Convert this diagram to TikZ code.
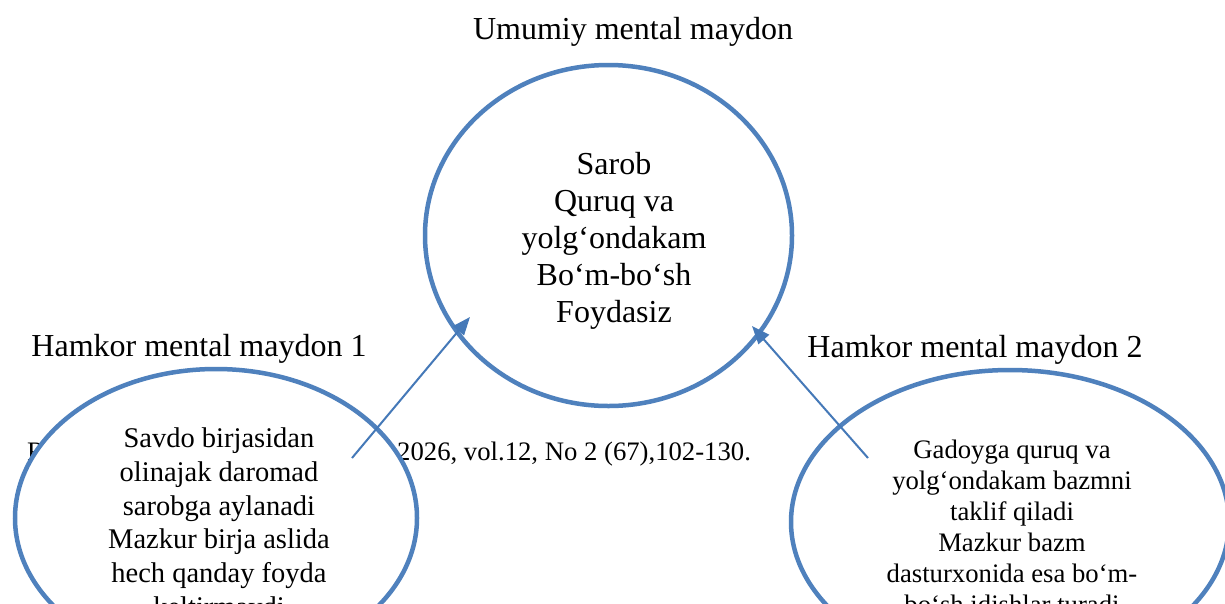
\documentclass[tikz,border=0pt]{standalone}
\usepackage{fontspec}
\setmainfont{Liberation Serif}
\usetikzlibrary{shapes.geometric,arrows.meta}
\definecolor{ellblue}{HTML}{4F81BD}
\definecolor{arrblue}{HTML}{4579B8}
\begin{document}
\begin{tikzpicture}[x=1pt,y=-1pt,
  field/.style={ellipse, draw=ellblue, line width=4.5pt, fill=white, inner sep=0pt},
  txt/.style={inner sep=0pt, text=black},
  big/.style={font=\fontsize{32}{37}\selectfont},
  link/.style={draw=arrblue, line width=2pt, -{Triangle[length=18pt,width=14pt]}}
]
\useasboundingbox (0,0) rectangle (1225,603);
\clip (0,0) rectangle (1225,603);
\fill[white] (0,0) rectangle (1225,603);

% reference line partly hidden
\node[txt, anchor=base west, font=\fontsize{26.7}{31}\selectfont] (refa) at (27,460) {R};
\node[txt, anchor=base west, font=\fontsize{26.7}{31}\selectfont] (refb) at (397,460) {2026, vol.12, No 2 (67),102-130.};

% ellipses
\node[field, minimum width=367pt, minimum height=341pt] (common) at (608.5,235.5) {};
\node[field, minimum width=402pt, minimum height=298pt] (p1) at (216,518) {};
\node[field, minimum width=438pt, minimum height=304pt] (p2) at (1010,522) {};

% texts
\node[txt, big, anchor=base] (title) at (633,39) {Umumiy mental maydon};
\node[txt, big, anchor=base] (lab1) at (199,356) {Hamkor mental maydon 1};
\node[txt, big, anchor=base] (lab2) at (975,357) {Hamkor mental maydon 2};

\node[txt, big, align=center, anchor=center] (ctext) at (614,240.5)
  {Sarob\\Quruq va\\yolg‘ondakam\\Bo‘m-bo‘sh\\Foydasiz};
\node[txt, align=center, anchor=north, font=\fontsize{28.5}{33.8}\selectfont] (t1) at (219,427.5)
  {Savdo birjasidan\\olinajak daromad\\sarobga aylanadi\\Mazkur birja aslida\\hech qanday foyda\\keltirmaydi};
\node[txt, align=center, anchor=north, font=\fontsize{26.7}{31}\selectfont] (t2) at (1012,440)
  {Gadoyga quruq va\\yolg‘ondakam bazmni\\taklif qiladi\\Mazkur bazm\\dasturxonida esa bo‘m-\\bo‘sh idishlar turadi};

% arrows
\coordinate (s1) at (352,458);
\coordinate (e1) at (470,317);
\coordinate (s2) at (868,458);
\coordinate (e2) at (752,326);
\draw[link] (s1) -- (e1);
\draw[link] (s2) -- (e2);
\end{tikzpicture}
\end{document}
